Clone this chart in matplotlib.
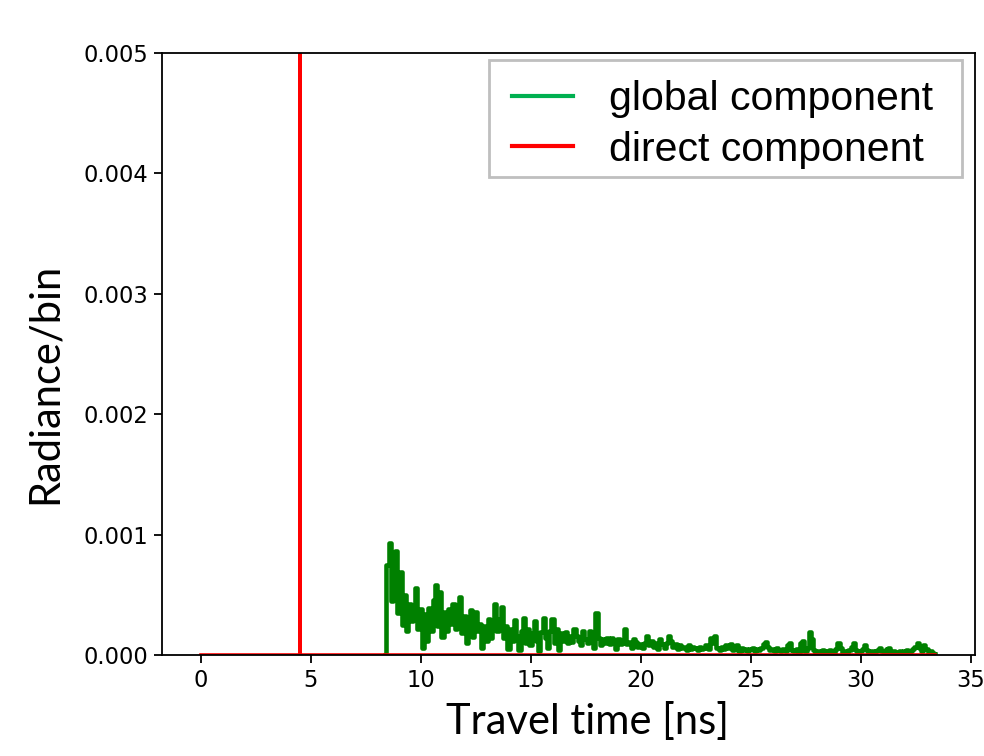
import numpy as np
import matplotlib
matplotlib.use("Agg")
import matplotlib.pyplot as plt
from matplotlib.lines import Line2D
from matplotlib.patches import Rectangle

# global component, radiance per bin in units of 1e-4, bins of 0.1 ns from 8.4 ns
global_start = 8.4
global_step = 0.1
global_e4 = [
    0, 7.5, 9.3, 4.5, 6.0, 8.6,
    3.5, 6.9, 2.5, 5.0, 2.0, 4.2, 2.8, 3.6, 5.6, 2.2,
    3.8, 0.6, 3.4, 1.2, 3.9, 2.0, 4.6, 5.8, 2.4, 5.2,
    1.5, 3.6, 2.0, 3.8, 2.6, 4.2, 2.2, 3.4, 4.8, 1.8,
    3.2, 1.0, 2.8, 3.7, 1.5, 3.6, 2.0, 2.6, 0.6, 2.4,
    1.2, 3.0, 1.4, 2.8, 4.2, 2.0, 3.0, 4.0, 1.4, 2.4,
    0.5, 2.2, 1.2, 2.9, 1.6, 0.4, 2.0, 3.1, 1.0, 2.2,
    0.8, 1.8, 2.8, 1.2, 0.3, 1.9, 3.1, 1.4, 0.6, 2.0,
    3.0, 1.0, 2.2, 0.4, 1.8, 1.2, 1.9, 1.0, 1.6, 1.1,
    2.2, 1.6, 1.2, 0.8, 2.0, 1.3, 1.0, 2.0, 1.1, 0.6,
    3.5, 1.4, 0.8, 1.3, 1.0, 1.4, 0.9, 1.4, 1.2, 0.5,
    1.3, 0.9, 1.0, 2.2, 0.9, 1.1, 0.6, 1.3, 1.1, 0.7,
    0.9, 0.6, 1.0, 1.6, 0.8, 1.2, 0.7, 1.0, 0.5, 1.3,
    0.9, 0.6, 1.0, 1.6, 1.2, 0.7, 0.9, 0.5, 0.8, 0.6,
    0.7, 0.4, 0.8, 0.5, 0.7, 0.6, 0.4, 0.7, 0.5, 0.6,
    0.8, 0.5, 1.4, 1.0, 1.6, 0.6, 0.4, 0.7, 0.5, 0.8,
    0.6, 0.9, 0.4, 0.7, 0.8, 0.3, 0.6, 0.4, 0.5, 0.3,
    0.5, 0.6, 0.3, 0.5, 0.4, 0.6, 0.9, 1.1, 0.7, 0.4,
    0.5, 0.3, 0.6, 0.4, 0.3, 0.5, 0.3, 0.8, 1.0, 0.4,
    0.3, 0.5, 0.2, 1.0, 1.2, 0.3, 0.6, 1.9, 1.3, 0.4,
    0.2, 0.3, 0.2, 0.4, 0.3, 0.2, 0.4, 0.3, 0.2, 0.5,
    1.0, 0.6, 0.2, 0.3, 0.2, 0.4, 0.7, 1.0, 0.4, 0.2,
    0.3, 0.5, 0.8, 0.4, 0.2, 0.3, 0.2, 0.3, 0.4, 0.6,
    0.3, 0.2, 0.5, 0.6, 0.2, 0.3, 0.1, 0.2, 0.3, 0.2,
    0.3, 0.4, 0.2, 0.3, 0.5, 0.7, 1.0, 0.6, 0.3, 0.8,
    0.5, 0.2, 0.3, 0.2, 0.1,
]

# direct component: zero everywhere except one spike at 4.5 ns
direct_t = [0.0, 4.5, 4.5, 4.5, 33.4]
direct_v = [0.0, 0.0, 0.02, 0.0, 0.0]

legend_labels = ['global component', 'direct component']

global_t = global_start + global_step * np.arange(len(global_e4))
global_v = np.array(global_e4) * 1e-4

fig = plt.figure(figsize=(9.84, 7.56), dpi=100)
ax = fig.add_axes([162/984, 1-655/756, 813/984, 602/756])

ax.plot(global_t, global_v, '-', c='green', linewidth=3.3, drawstyle='steps-mid')
ax.plot(direct_t, direct_v, '-', c='red', linewidth=2.6)

ax.set_xlim(-1.75, 35.2)
ax.set_ylim(0, 0.005)
ax.set_yticks([0, 0.001, 0.002, 0.003, 0.004, 0.005])
ax.set_xticks([0, 5, 10, 15, 20, 25, 30, 35])
ax.tick_params(labelsize=16.3, length=5.5, width=1.3, pad=4.5)
for s in ax.spines.values():
    s.set_linewidth(1.3)

ax.set_xlabel('Travel time [ns]', fontsize=30, family='Lato', labelpad=7)
ax.xaxis.label.set_x(0.523)
ax.set_ylabel('Radiance/bin', fontsize=30, family='Lato', labelpad=14)
ax.yaxis.label.set_y(0.452)

# legend added on top, with brighter colours; its box is drawn separately
handles = [Line2D([], [], color='#00b050', linewidth=3),
           Line2D([], [], color='#ff0000', linewidth=3)]
leg = ax.legend(handles, legend_labels, loc='upper right',
                bbox_to_anchor=(0.984, 1.002), borderaxespad=0,
                prop={'family': 'Liberation Sans', 'size': 29.5},
                handlelength=1.5, handletextpad=0.88, borderpad=0.7,
                labelspacing=0.3, frameon=False)
leg.set_zorder(6)
ax.add_patch(Rectangle((0.4022, 0.794), 0.5818, 0.1944, transform=ax.transAxes,
                       facecolor='white', edgecolor='#bfbfbf', linewidth=2,
                       zorder=5.5))

plt.savefig('out.png', dpi=100)
